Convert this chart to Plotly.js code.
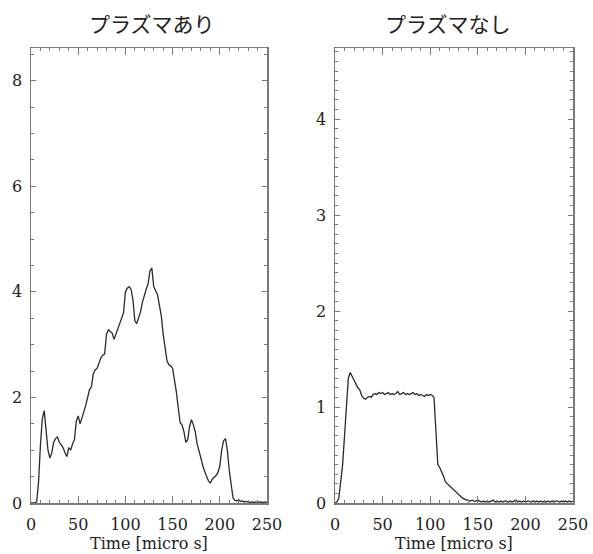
<!DOCTYPE html>
<html>
<head>
<meta charset="utf-8">
<script src="https://cdn.plot.ly/plotly-3.0.1.min.js"></script>
<style>html,body{margin:0;padding:0;background:#fff;}#chart{width:593px;height:554px;}</style>
</head>
<body>
<div id="chart"></div>
<script>
// Time axis (micro s), sampled every 2 micro s
const timeUs = [];
for (let i = 0; i <= 125; i++) timeUs.push(i * 2);

const titleLeft = "プラズマあり";
const titleRight = "プラズマなし";
const xLabel = "Time [micro s]";

// With plasma
const withPlasma = [
  0, 0, 0, 0.02, 0.4, 1.1, 1.6, 1.75, 1.4, 1.0,
  0.85, 0.95, 1.15, 1.22, 1.25, 1.15, 1.1, 1.05, 0.95, 0.88,
  1.05, 1.0, 1.12, 1.2, 1.55, 1.65, 1.5, 1.62, 1.7, 1.85,
  2.0, 2.15, 2.2, 2.45, 2.52, 2.55, 2.65, 2.75, 2.8, 2.82,
  3.2, 3.28, 3.25, 3.22, 3.1, 3.2, 3.3, 3.4, 3.5, 3.6,
  4.0, 4.07, 4.1, 4.05, 3.85, 3.45, 3.4, 3.5, 3.62, 3.8,
  3.95, 4.05, 4.15, 4.4, 4.45, 4.1, 4.02, 3.95, 3.75, 3.55,
  3.2, 2.9, 2.7, 2.62, 2.6, 2.55, 2.35, 2.1, 1.8, 1.52,
  1.48, 1.35, 1.15, 1.2, 1.45, 1.58, 1.48, 1.35, 1.12, 1.0,
  0.85, 0.7, 0.58, 0.5, 0.42, 0.38, 0.45, 0.48, 0.52, 0.58,
  0.7, 1.0, 1.18, 1.22, 1.0, 0.62, 0.3, 0.1, 0.05, 0.04,
  0.06, 0.03, 0.04, 0.02, 0.03, 0.02, 0.01, 0.02, 0.01, 0.02,
  0.01, 0.02, 0.01, 0.01, 0.02, 0.01
];

// Without plasma
const withoutPlasma = [
  0, 0.01, 0.05, 0.2, 0.4, 0.7, 0.95, 1.3, 1.36, 1.32,
  1.27, 1.24, 1.2, 1.18, 1.12, 1.09, 1.08, 1.1, 1.11, 1.1,
  1.13, 1.14, 1.13, 1.15, 1.14, 1.15, 1.13, 1.14, 1.15, 1.13,
  1.14, 1.13, 1.14, 1.16, 1.13, 1.14, 1.15, 1.13, 1.14, 1.13,
  1.14, 1.15, 1.13, 1.14, 1.12, 1.13, 1.12, 1.11, 1.13, 1.12,
  1.13, 1.12, 1.1, 0.75, 0.4, 0.37, 0.33, 0.28, 0.22, 0.2,
  0.19, 0.17, 0.14, 0.12, 0.1, 0.08, 0.06, 0.05, 0.04, 0.03,
  0.03, 0.02, 0.03, 0.02, 0.02, 0.03, 0.02, 0.01, 0.02, 0.01,
  0.02, 0.01, 0.02, 0.03, 0.01, 0.02, 0.01, 0.02, 0.01, 0.02,
  0.02, 0.01, 0.02, 0.01, 0.02, 0.03, 0.01, 0.02, 0.01, 0.02,
  0.01, 0.02, 0.02, 0.01, 0.02, 0.01, 0.02, 0.01, 0.02, 0.01,
  0.02, 0.01, 0.02, 0.01, 0.02, 0.01, 0.02, 0.02, 0.01, 0.02,
  0.01, 0.02, 0.01, 0.02, 0.01, 0.02
];

const W = 593, H = 554;
const tickFont = {family: "DejaVu Serif, serif", size: 16, color: "#222"};
const axColor = "#7a7a7a";

function xAxis(dom, anchor) {
  return {
    domain: dom, anchor: anchor, range: [0, 250], tickvals: [0, 50, 100, 150, 200, 250],
    ticks: "inside", ticklen: 7, tickwidth: 1, tickcolor: axColor,
    showline: true, linecolor: axColor, linewidth: 1.5, mirror: "allticks",
    showgrid: false, zeroline: false, tickfont: tickFont, ticklabelstandoff: 6,
    minor: {dtick: 10, ticks: "inside", ticklen: 3, tickcolor: axColor, showgrid: false}
  };
}
function yAxis(dom, anchor, rng, dt, mdt) {
  return {
    domain: dom, anchor: anchor, range: rng, dtick: dt, tick0: 0,
    ticks: "inside", ticklen: 5, tickwidth: 1, tickcolor: axColor,
    showline: true, linecolor: axColor, linewidth: 1.5, mirror: "allticks",
    showgrid: false, zeroline: false, tickfont: tickFont, ticklabelstandoff: 4,
    minor: {dtick: mdt, ticks: "inside", ticklen: 3, tickcolor: axColor, showgrid: false}
  };
}

const xd1 = [31 / W, 267 / W], xd2 = [335 / W, 573 / W];
const yd = [1 - 503 / H, 1 - 48 / H];

const data = [
  {x: timeUs, y: withPlasma, type: "scatter", mode: "lines", xaxis: "x", yaxis: "y",
   line: {color: "#2a2a2a", width: 1.3}, hoverinfo: "skip"},
  {x: timeUs, y: withoutPlasma, type: "scatter", mode: "lines", xaxis: "x2", yaxis: "y2",
   line: {color: "#2a2a2a", width: 1.3}, hoverinfo: "skip"}
];

const titleFont = {family: "Noto Sans CJK JP, sans-serif", size: 21, color: "#222"};
const labFont = {family: "DejaVu Serif, serif", size: 16, color: "#222"};

const layout = {
  width: W, height: H, margin: {l: 0, r: 0, t: 0, b: 0},
  paper_bgcolor: "#fff", plot_bgcolor: "#fff", showlegend: false,
  xaxis: xAxis(xd1, "y"),
  yaxis: yAxis(yd, "x", [0, 8.62], 2, 0.5),
  xaxis2: xAxis(xd2, "y2"),
  yaxis2: yAxis(yd, "x2", [0, 4.74], 1, 0.1),
  annotations: [
    {text: titleLeft, xref: "paper", yref: "paper", x: 152 / W, y: 1 - 23 / H, xanchor: "center", yanchor: "middle", showarrow: false, font: titleFont},
    {text: titleRight, xref: "paper", yref: "paper", x: 448 / W, y: 1 - 23 / H, xanchor: "center", yanchor: "middle", showarrow: false, font: titleFont},
    {text: xLabel, xref: "paper", yref: "paper", x: 149 / W, y: 1 - 543 / H, xanchor: "center", yanchor: "middle", showarrow: false, font: labFont},
    {text: xLabel, xref: "paper", yref: "paper", x: 454 / W, y: 1 - 543 / H, xanchor: "center", yanchor: "middle", showarrow: false, font: labFont}
  ]
};

Plotly.newPlot("chart", data, layout, {staticPlot: true, displayModeBar: false});
</script>
</body>
</html>
